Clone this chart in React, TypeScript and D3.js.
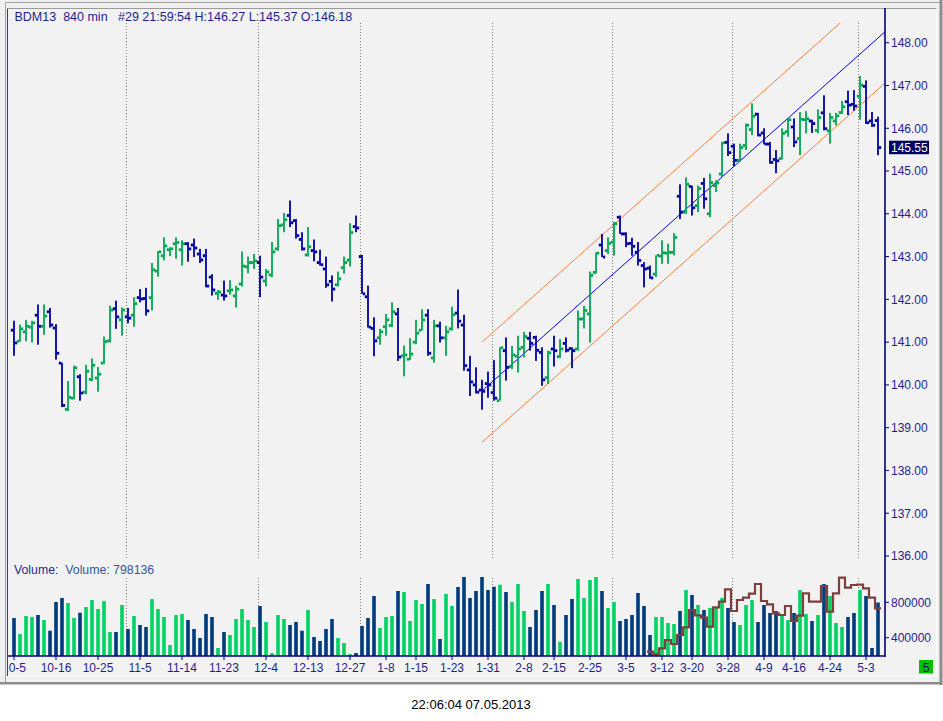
import * as d3 from "d3";

const W = 943;
const H = 721;

// OHLC, one 840-minute bar per entry
const opens = [
  141.28, 141.02, 141.24, 141.35, 141.63, 141.37, 141.71, 141.33, 140.51, 139.43,
  139.69, 140.19, 139.83, 140.13, 140.16, 140.51, 141.03, 141.78, 141.52, 141.59,
  141.63, 142.04, 142.02, 142.04, 142.66, 143.02, 143.16, 143.3, 143.16, 143.3,
  143.27, 143.06, 143.02, 142.52, 142.14, 142.1, 142.2, 142.08, 142.36, 142.76,
  142.86, 142.86, 142.43, 142.57, 143.18, 143.74, 143.96, 143.84, 143.4, 143.04,
  143.14, 142.86, 142.71, 142.42, 142.34, 142.74, 142.92, 143.7, 143.0, 142.06,
  141.32, 141.1, 141.36, 141.39, 141.66, 140.68, 140.6, 141.0, 141.28, 141.63,
  140.63, 141.38, 141.1, 141.31, 141.68, 141.4, 140.35, 140.0, 139.88, 140.03,
  139.82, 139.63, 140.8, 140.43, 140.67, 140.88, 141.09, 141.11, 140.76, 140.17,
  140.84, 140.66, 140.97, 140.85, 140.84, 141.54, 141.66, 142.63, 143.27, 143.14,
  143.34, 143.92, 143.53, 143.31, 143.1, 142.79, 142.73, 142.59, 143.01, 143.08,
  143.1, 144.41, 144.04, 144.64, 144.19, 144.71, 144.0, 144.66, 144.93, 145.67,
  145.58, 145.25, 145.6, 145.97, 146.33, 145.89, 145.63, 145.27, 145.29, 145.92,
  146.03, 145.76, 146.2, 146.17, 145.95, 146.36, 145.94, 146.17, 146.37, 146.62,
  146.56, 146.75, 146.98, 146.17, 146.18,
];
const highs = [
  141.5, 141.41, 141.52, 141.5, 141.88, 141.88, 141.8, 141.42, 140.52, 140.09,
  140.45, 140.25, 140.47, 140.62, 140.42, 141.13, 141.85, 141.97, 141.81, 141.8,
  142.05, 142.24, 142.27, 142.85, 143.13, 143.45, 143.22, 143.45, 143.38, 143.34,
  143.42, 143.18, 143.18, 142.59, 142.22, 142.44, 142.45, 142.32, 143.12, 143.0,
  143.06, 143.02, 142.71, 143.34, 143.88, 144.02, 144.31, 143.88, 143.57, 143.69,
  143.4, 143.16, 143.0, 142.56, 142.65, 143.0, 143.78, 143.96, 143.04, 142.32,
  141.58, 141.31, 141.66, 141.93, 141.8, 140.92, 141.09, 141.52, 141.77, 141.77,
  141.52, 141.48, 141.38, 141.83, 142.23, 141.64, 140.68, 140.41, 140.12, 140.31,
  140.58, 140.88, 141.11, 140.91, 141.15, 141.24, 141.24, 141.15, 140.88, 140.8,
  141.15, 141.07, 141.11, 140.88, 141.74, 141.85, 142.65, 143.1, 143.53, 143.45,
  143.81, 143.96, 143.57, 143.44, 143.34, 142.87, 142.79, 143.03, 143.38, 143.3,
  143.55, 144.69, 144.85, 144.66, 144.66, 144.84, 144.94, 144.78, 145.68, 145.88,
  145.64, 145.64, 146.11, 146.58, 146.36, 146.0, 145.68, 145.49, 146.0, 146.23,
  146.23, 146.38, 146.4, 146.2, 146.44, 146.77, 146.36, 146.36, 146.64, 146.88,
  146.89, 147.22, 147.12, 146.38, 146.27,
];
const lows = [
  140.68, 141.01, 141.02, 140.99, 140.94, 141.17, 141.34, 140.59, 139.48, 139.39,
  139.66, 139.63, 139.78, 140.09, 139.84, 140.49, 140.99, 141.31, 141.15, 141.44,
  141.36, 141.93, 141.62, 141.74, 142.53, 142.91, 143.01, 142.95, 142.79, 142.88,
  142.99, 142.85, 142.28, 142.09, 141.99, 141.97, 142.11, 141.81, 142.3, 142.61,
  142.71, 142.05, 142.3, 142.52, 143.14, 143.57, 143.69, 143.42, 143.14, 143.0,
  142.89, 142.79, 142.27, 141.95, 142.3, 142.6, 142.77, 143.57, 142.13, 141.34,
  140.67, 140.94, 141.15, 141.35, 140.56, 140.2, 140.58, 140.95, 141.27, 140.68,
  140.52, 140.99, 140.68, 141.27, 141.32, 140.33, 139.74, 139.8, 139.42, 139.7,
  139.63, 139.63, 140.1, 140.37, 140.29, 140.64, 140.8, 140.56, 139.98, 140.02,
  140.43, 140.63, 140.76, 140.39, 140.8, 141.32, 140.99, 142.6, 142.99, 143.06,
  143.02, 143.53, 143.22, 143.02, 142.79, 142.28, 142.48, 142.52, 142.83, 142.83,
  143.03, 143.88, 144.0, 143.96, 144.04, 144.12, 143.92, 144.51, 144.86, 145.35,
  145.11, 145.21, 145.49, 145.84, 145.81, 145.62, 145.17, 144.95, 145.27, 145.8,
  145.56, 145.37, 145.88, 145.89, 145.88, 145.95, 145.64, 146.07, 146.33, 146.31,
  146.41, 146.2, 146.1, 146.03, 145.37,
];
const closes = [
  140.98, 141.31, 141.37, 141.45, 141.37, 141.61, 141.4, 140.74, 139.52, 139.71,
  140.4, 139.81, 140.32, 140.46, 140.25, 141.01, 141.75, 141.59, 141.75, 141.56,
  141.9, 142.01, 141.73, 142.69, 143.11, 143.25, 143.18, 143.33, 143.3, 143.18,
  143.2, 142.92, 142.31, 142.22, 142.17, 142.08, 142.22, 142.24, 142.78, 142.86,
  142.9, 142.52, 142.64, 143.11, 143.72, 143.86, 143.79, 143.49, 143.18, 143.23,
  143.11, 142.81, 142.34, 142.24, 142.48, 142.86, 143.56, 143.67, 142.13, 141.35,
  141.03, 141.24, 141.52, 141.71, 140.65, 140.7, 140.72, 141.21, 141.52, 140.74,
  141.38, 141.1, 141.24, 141.64, 141.49, 140.45, 140.07, 139.83, 139.85, 140.0,
  139.69, 140.87, 140.41, 140.7, 140.84, 141.13, 140.97, 140.81, 140.12, 140.75,
  140.8, 140.84, 140.81, 140.8, 141.54, 141.74, 142.56, 143.08, 142.99, 143.31,
  143.77, 143.53, 143.3, 143.24, 142.91, 142.71, 142.5, 143.03, 143.09, 143.1,
  143.45, 144.04, 144.69, 144.14, 144.59, 144.35, 144.73, 144.72, 145.66, 145.43,
  145.25, 145.55, 146.07, 146.28, 145.84, 145.63, 145.2, 145.24, 145.88, 146.2,
  145.68, 146.21, 146.22, 146.11, 146.25, 145.99, 146.25, 146.29, 146.5, 146.54,
  146.52, 147.01, 146.13, 146.07, 145.55,
];
const volumes = [
  622600, 441800, 645200, 633900, 656500, 600000, 479100, 803400, 848600, 792100,
  622600, 682500, 746900, 826000, 724300, 814700, 464400, 464400, 769500, 498300,
  645200, 543500, 520900, 837300, 724300, 633900, 317500, 656500, 667800, 600000,
  498300, 396600, 667800, 633900, 283600, 464400, 430500, 611300, 724300, 600000,
  520900, 758200, 577400, 227100, 656500, 611300, 543500, 577400, 479100, 713000,
  407900, 362700, 498300, 611300, 396600, 340100, 215800, 227100, 532200, 622600,
  871200, 509600, 633900, 645200, 927700, 916400, 588700, 826000, 780800, 1006800,
  837300, 385300, 893800, 758200, 972900, 1085900, 848600, 927700, 1085900, 939000,
  976200, 998900, 916400, 803400, 1006800, 701700, 520900, 713000, 927700, 1006800,
  769500, 351400, 656500, 837300, 1063300, 848600, 1052000, 1085900, 927700, 735600,
  803400, 588700, 611300, 656500, 905100, 758200, 430500, 633900, 633900, 566100,
  554800, 701700, 939000, 882500, 769500, 713000, 735600, 735600, 848600, 735600,
  577400, 543500, 769500, 826000, 577400, 769500, 679100, 701700, 656500, 600000,
  679100, 939000, 667800, 588700, 656500, 1006800, 871200, 566100, 520900, 633900,
  679100, 939000, 871200, 283600, 798136,
];

// volume average line, begins at bar 106
const volAvgStart = 106;
const volAvg = [
  241800, 212400, 280200, 374000, 328800, 430500, 517500, 713000, 653000, 626000,
  524300, 743500, 806800, 946900, 701700, 826000, 852000, 897200, 1006800, 814700,
  777400, 675700, 656500, 758200, 588700, 648600, 901700, 806800, 806800, 984100,
  693800, 901700, 1078000, 965000, 995500, 998900, 958200, 852000, 732200,
];

// regression channel: [start bar, end bar] and prices at those ends
const chBars = [78, 145.2];
const chMid = [139.86, 148.26];
const chUpper = [141.0, 149.4];
const chLower = [138.66, 147.06];

const dateLabels = [
  "10-5", "10-16", "10-25", "11-5", "11-14", "11-23", "12-4", "12-13", "12-27", "1-8",
  "1-15", "1-23", "1-31", "2-8", "2-15", "2-25", "3-5", "3-12", "3-20", "3-28",
  "4-9", "4-16", "4-24", "5-3",
];
const dateIdx = [
  0, 7, 14, 21, 28, 35, 42, 49, 56, 62, 67, 73, 79, 85, 90, 96, 102, 108, 113, 119,
  125, 130, 136, 142,
];
const monthIdx = [19, 41, 58, 80, 100, 120, 141];
const priceTicks = [136, 137, 138, 139, 140, 141, 142, 143, 144, 145, 146, 147, 148];
const volTicks = [400000, 800000];
const lastPrice = 145.55;

const header = "BDM13  840 min   #29 21:59:54 H:146.27 L:145.37 O:146.18";

const FONT = "'Liberation Sans', Arial, sans-serif";
const NAVY = "#000080";
const LABEL = "#1e1e8e";
const UP = "#00a651";
const DOWN = "#0000a0";
const VUP = "#00d264";
const VDOWN = "#003c7c";

const LEFT = 8;
const AXIS_X = 885;
const PRICE_TOP = 23;
const PRICE_BOTTOM = 560;
const VOL_TOP = 578;
const VOL_BOTTOM = 656;

export default function App() {
  const x = d3.scaleLinear().domain([0, 144]).range([14, 878]);
  const y = d3.scaleLinear().domain([136, 148]).range([556, 42.7]);
  const yv = d3.scaleLinear().domain([400000, 800000]).range([637.7, 602.3]);

  const chLine = (p: number[]) =>
    d3.line()(chBars.map((b, i) => [x(b), y(p[i])] as [number, number]));

  // step line: each value spans its own bar slot
  const avgPts = [...volAvg, volAvg[volAvg.length - 1]];
  const avgPath = d3
    .line<number>()
    .x((_, i) => x(volAvgStart + i) - 3)
    .y((d) => yv(d))
    .curve(d3.curveStepAfter)(avgPts);

  return (
    <div style={{ position: "absolute", left: 0, top: 0 }}>
      <svg width={W} height={H} viewBox={`0 0 ${W} ${H}`} style={{ display: "block" }}>
        <defs>
          <clipPath id="pclip">
            <rect x={LEFT} y={PRICE_TOP} width={AXIS_X - LEFT} height={PRICE_BOTTOM - PRICE_TOP} />
          </clipPath>
          <clipPath id="xclip">
            <rect x={LEFT + 0.5} y={656} width={AXIS_X - LEFT} height={20} />
          </clipPath>
        </defs>

        {/* window frame */}
        <rect x={0} y={0} width={W} height={H} fill="#ffffff" />
        <rect x={0} y={0} width={W} height={684} fill="#f0f0f0" />
        <line x1={5.5} y1={2.5} x2={5.5} y2={682} stroke="#a0a0a0" />
        <line x1={5.5} y1={2.5} x2={940} y2={2.5} stroke="#a0a0a0" />
        <rect x={939.5} y={0} width={3} height={685} fill="#8c8c8c" />
        <rect x={0} y={682} width={942} height={2.5} fill="#8c8c8c" />
        <rect x={8} y={8.5} width={929} height={667.5} fill="#f2f2f2" />
        <line x1={8} y1={8.5} x2={937} y2={8.5} stroke="#9a9a9a" />
        <line x1={7.5} y1={8.5} x2={7.5} y2={676} stroke="#3a3a5a" />
        <line x1={8} y1={676.5} x2={937} y2={676.5} stroke="#ffffff" />
        <line x1={936.5} y1={8.5} x2={936.5} y2={676} stroke="#ffffff" />

        {/* month separators */}
        {monthIdx.map((m) => (
          <g key={m} stroke="#7f7f7f" strokeDasharray="1 2">
            <line x1={x(m) - 1.5} x2={x(m) - 1.5} y1={PRICE_TOP} y2={PRICE_BOTTOM} />
            <line x1={x(m) - 1.5} x2={x(m) - 1.5} y1={VOL_TOP} y2={VOL_BOTTOM} />
          </g>
        ))}

        {/* channel */}
        <g clipPath="url(#pclip)" fill="none" strokeWidth={1}>
          <path d={chLine(chUpper) ?? ""} stroke="#ff7f3a" />
          <path d={chLine(chLower) ?? ""} stroke="#ff7f3a" />
          <path d={chLine(chMid) ?? ""} stroke="#0000ff" />
        </g>

        {/* OHLC bars */}
        {opens.map((o, i) => {
          const c = closes[i];
          const col = c >= o ? UP : DOWN;
          const cx = x(i);
          return (
            <g key={i} fill={col}>
              <rect x={cx - 0.9} y={y(highs[i])} width={1.8} height={Math.max(1, y(lows[i]) - y(highs[i]))} />
              <rect x={cx - 3.2} y={y(o) - 1.4} width={2.4} height={2.8} />
              <rect x={cx + 0.8} y={y(c) - 1.4} width={2.4} height={2.8} />
            </g>
          );
        })}

        {/* volume bars */}
        {volumes.map((v, i) => (
          <rect
            key={i}
            x={x(i) - 1.8}
            y={yv(v)}
            width={3.6}
            height={VOL_BOTTOM - yv(v)}
            fill={closes[i] >= opens[i] ? VUP : VDOWN}
          />
        ))}
        <path d={avgPath ?? ""} fill="none" stroke="#7e3f3f" strokeWidth={2.2} />

        {/* axes */}
        <line x1={AXIS_X} x2={AXIS_X} y1={8} y2={VOL_BOTTOM + 1} stroke={NAVY} strokeWidth={1.6} />
        <line x1={LEFT} x2={AXIS_X} y1={VOL_BOTTOM} y2={VOL_BOTTOM} stroke={NAVY} strokeWidth={1.6} />
        <g fontFamily={FONT} fontSize={12} fill={LABEL}>
          {priceTicks.map((p) => (
            <g key={p}>
              <line x1={AXIS_X} x2={AXIS_X + 4} y1={y(p)} y2={y(p)} stroke={NAVY} />
              <text x={891} y={y(p) + 4.3}>{p.toFixed(2)}</text>
            </g>
          ))}
          {volTicks.map((v) => (
            <g key={v}>
              <line x1={AXIS_X} x2={AXIS_X + 4} y1={yv(v)} y2={yv(v)} stroke={NAVY} />
              <text x={891} y={yv(v) + 4.3}>{v}</text>
            </g>
          ))}
          <g clipPath="url(#xclip)">
            {dateIdx.map((d, i) => (
              <g key={d}>
                <line x1={x(d)} x2={x(d)} y1={VOL_BOTTOM} y2={VOL_BOTTOM + 4} stroke={NAVY} />
                <text x={x(d)} y={671.5} textAnchor="middle">{dateLabels[i]}</text>
              </g>
            ))}
          </g>
        </g>

        {/* last price marker */}
        <rect x={889} y={y(lastPrice) - 6.8} width={40} height={13.5} fill="#000060" />
        <text x={891} y={y(lastPrice) + 4.3} fontFamily={FONT} fontSize={12} fill="#ffffff">
          {lastPrice.toFixed(2)}
        </text>

        {/* titles */}
        <text x={14.5} y={20.5} fontFamily={FONT} fontSize={12.5} fill={LABEL} style={{ whiteSpace: "pre" }}>
          {header}
        </text>
        <text x={14} y={574} fontFamily={FONT} fontSize={12.3} style={{ whiteSpace: "pre" }}>
          <tspan fill="#2a2a88">Volume:</tspan>
          <tspan fill="#34569a">{"  Volume: " + volumes[volumes.length - 1]}</tspan>
        </text>

        <rect x={919} y={660} width={14} height={13.5} fill="#00c000" />
        <text x={926} y={671.5} textAnchor="middle" fontFamily={FONT} fontSize={12} fill="#10107a">5</text>

        <text x={471} y={708.5} textAnchor="middle" fontFamily={FONT} fontSize={13} fill="#000000">
          22:06:04 07.05.2013
        </text>
      </svg>
    </div>
  );
}
